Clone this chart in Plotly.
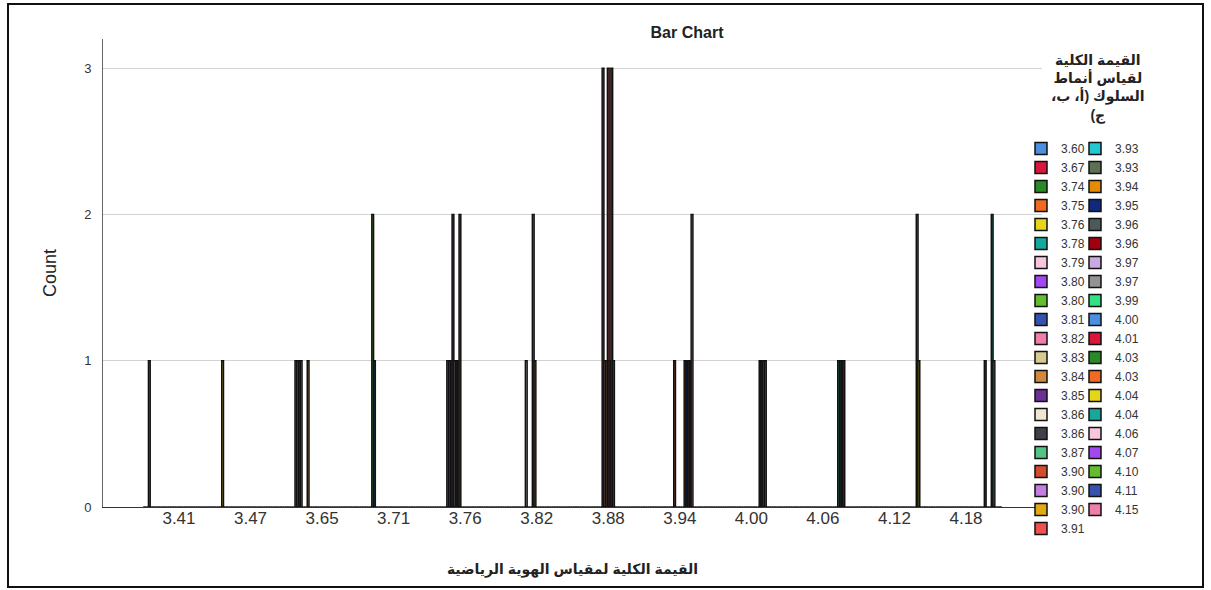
import plotly.graph_objects as go

# ---------------- data ----------------
x_categories = ["3.41", "3.47", "3.65", "3.71", "3.76", "3.82",
                "3.88", "3.94", "4.00", "4.06", "4.12", "4.18"]

series_labels = ["3.60", "3.67", "3.74", "3.75", "3.76", "3.78", "3.79", "3.80", "3.80",
                 "3.81", "3.82", "3.83", "3.84", "3.85", "3.86", "3.86", "3.87", "3.90",
                 "3.90", "3.90", "3.91",
                 "3.93", "3.93", "3.94", "3.95", "3.96", "3.96", "3.97", "3.97", "3.99",
                 "4.00", "4.01", "4.03", "4.03", "4.04", "4.04", "4.06", "4.07", "4.10",
                 "4.11", "4.15"]

palette = ["#4A8FE0", "#D9163C", "#2A8A2A", "#F26A22", "#E6D619", "#16A89A", "#F7C6DE",
           "#A347F0", "#62BE2E", "#3553AD", "#F07EAA", "#D6CB8E", "#D1893F", "#6B2F96",
           "#EFE7D2", "#404048", "#52C585", "#D24C2E", "#C27FE0", "#E2AA12", "#F05050",
           "#22C9D3", "#5B7152", "#E58B06", "#0E2A80", "#4E5A58", "#A0000E", "#C9A9E2",
           "#939393", "#31E285"]

# one entry per non-empty bar: x category, series (legend entry) index, count
bar_category = ["3.41", "3.47",
                "3.65", "3.65", "3.65", "3.65", "3.65",
                "3.71", "3.71",
                "3.76", "3.76", "3.76", "3.76", "3.76", "3.76", "3.76", "3.76",
                "3.82", "3.82", "3.82",
                "3.88", "3.88", "3.88", "3.88", "3.88", "3.88", "3.88",
                "3.94", "3.94", "3.94", "3.94", "3.94", "3.94",
                "4.00", "4.00", "4.00", "4.00",
                "4.06", "4.06", "4.06", "4.06",
                "4.12", "4.12",
                "4.18", "4.18", "4.18"]
bar_series = [3, 4,
              5, 6, 7, 8, 12,
              8, 9,
              10, 11, 12, 13, 14, 15, 16, 17,
              14, 18, 19,
              17, 18, 19, 20, 21, 22, 23,
              17, 23, 24, 25, 26, 27,
              25, 26, 27, 28,
              29, 30, 31, 32,
              33, 34,
              31, 35, 36]
bar_count = [1, 1,
             1, 1, 1, 1, 1,
             2, 1,
             1, 1, 1, 2, 1, 1, 1, 2,
             1, 2, 1,
             3, 1, 1, 3, 1, 3, 1,
             1, 1, 1, 1, 1, 2,
             1, 1, 1, 1,
             1, 1, 1, 1,
             2, 1,
             1, 2, 1]

title_text = "Bar Chart"
x_title = "القيمة الكلية لمقياس الهوية الرياضية"
y_title = "Count"
legend_title_lines = ["القيمة الكلية", "لقياس أنماط", "السلوك (أ، ب،", "ج)"]

# ---------------- build ----------------
counts = [[0] * len(x_categories) for _ in series_labels]
for c, s, n in zip(bar_category, bar_series, bar_count):
    counts[s][x_categories.index(c)] += n

n_left = 21
FONT = "Liberation Sans, Arial, DejaVu Sans, sans-serif"

fig = go.Figure()
for j, lab in enumerate(series_labels):
    fig.add_trace(go.Bar(
        x=x_categories, y=counts[j], name=lab,
        marker=dict(color=palette[j % len(palette)], line=dict(color="#111111", width=1.5)),
        legend="legend" if j < n_left else "legend2",
        hoverinfo="x+y+name",
    ))

# plot area geometry (pixels) used for paper-coordinate placement
L, R, T, B = 103, 1042, 39, 507
W, H = 1211, 590
pw, ph = R - L, B - T


def px(xp):
    return (xp - L) / pw


def py(yp):
    return (B - yp) / ph


fig.update_layout(
    width=W, height=H,
    margin=dict(l=L, r=W - R, t=T, b=H - B, pad=0),
    paper_bgcolor="white", plot_bgcolor="white",
    barmode="group", bargap=0.0001, bargroupgap=0,
    font=dict(family=FONT, color="#222222", size=13),
    title=dict(text="<b>%s</b>" % title_text, x=687 / W, xanchor="center",
               y=1 - 32 / H, yanchor="middle", font=dict(size=16, color="#222222")),
    showlegend=True,
    legend=dict(x=px(1021), y=py(134), xanchor="left", yanchor="top",
                bgcolor="rgba(0,0,0,0)", borderwidth=0, font=dict(size=12, color="#333333"),
                tracegroupgap=0, itemclick=False),
    legend2=dict(x=px(1075), y=py(134), xanchor="left", yanchor="top",
                 bgcolor="rgba(0,0,0,0)", borderwidth=0, font=dict(size=12, color="#333333"),
                 tracegroupgap=0, itemclick=False),
    xaxis=dict(type="category", categoryorder="array", categoryarray=x_categories,
               range=[-1.062, len(x_categories) + 0.062], showgrid=False, zeroline=False,
               showline=True, linecolor="#333333", linewidth=1, ticks="",
               tickfont=dict(size=17, color="#333333"), ticklabelstandoff=-4,
               title=dict(text="<b>%s</b>" % x_title, font=dict(size=14, color="#222222"),
                          standoff=36)),
    yaxis=dict(range=[0, 3.2], tickvals=[0, 1, 2, 3], showgrid=True, gridcolor="#D2D2D2",
               gridwidth=1, zeroline=False, showline=True, linecolor="#666666", linewidth=1,
               ticks="", tickfont=dict(size=13, color="#333333"), ticklabelstandoff=8,
               title=dict(text=y_title, font=dict(size=18, color="#222222"), standoff=22)),
)

fig.add_annotation(
    xref="paper", yref="paper", x=px(1098), y=py(88), xanchor="center", yanchor="middle",
    text="<b>" + "<br>".join("\u200f" + s + "\u200f" for s in legend_title_lines) + "</b>",
    showarrow=False, align="center", font=dict(size=14, color="#222222"),
)

fig.add_shape(type="rect", xref="paper", yref="paper",
              x0=px(8), x1=px(1203), y0=py(587), y1=py(4),
              line=dict(color="#111111", width=2), layer="above")

fig.write_html("out.html",
               config={"displayModeBar": False},
               post_script="document.body.style.margin='0px';"
                           "document.body.style.overflow='hidden';")
